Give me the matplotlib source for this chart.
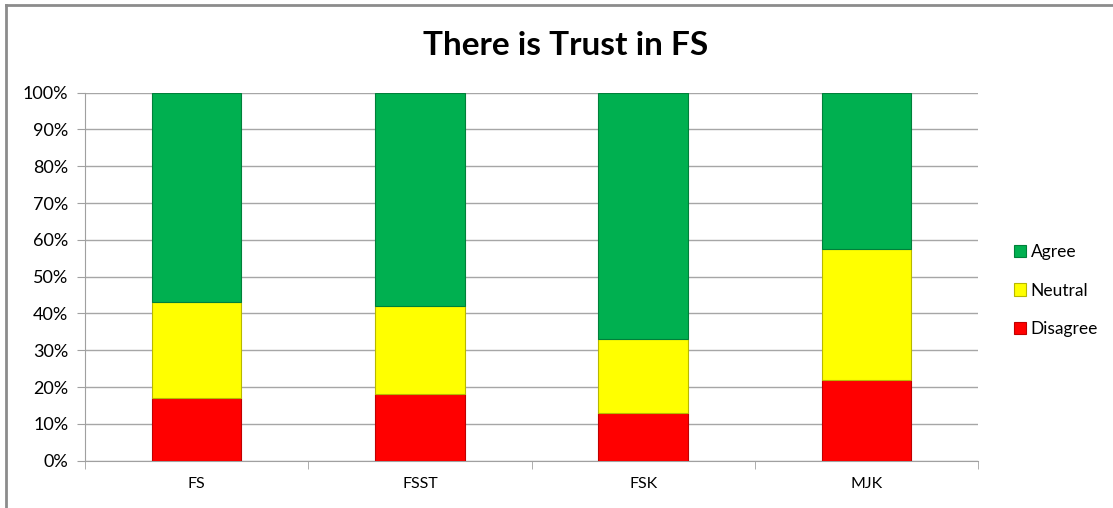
import numpy as np
import matplotlib.pyplot as plt
from matplotlib.lines import Line2D

categories = ['FS', 'FSST', 'FSK', 'MJK']
disagree = [17, 18, 13, 22]
neutral = [26, 24, 20, 35.5]
agree = [57, 58, 67, 42.5]

plt.rcParams['font.family'] = ['Lato', 'DejaVu Sans']

fig = plt.figure(figsize=(11.13, 5.08), dpi=100)
ax = fig.add_axes([0.0764, 0.0933, 0.8023, 0.7244])

# 图框 (只有上边和左边可见)
fig.add_artist(Line2D([0.005, 1.0], [0.991, 0.991], transform=fig.transFigure,
                      color='#8c8c8c', linewidth=2.0))
fig.add_artist(Line2D([0.005, 0.005], [0.0, 0.991], transform=fig.transFigure,
                      color='#8c8c8c', linewidth=2.0))

x = np.arange(len(categories))
w = 0.4
d = np.array(disagree)
n = np.array(neutral)
a = np.array(agree)

ax.bar(x, d, w, color='#FF0000', edgecolor='#c00000', linewidth=0.8, label='Disagree', zorder=3)
ax.bar(x, n, w, bottom=d, color='#FFFF00', edgecolor='#b8b800', linewidth=0.8, label='Neutral', zorder=3)
ax.bar(x, a, w, bottom=d + n, color='#00B050', edgecolor='#00803a', linewidth=0.8, label='Agree', zorder=3)

ax.set_xlim(-0.5, len(categories) - 0.5)
ax.set_ylim(0, 100)
ax.set_yticks(np.arange(0, 101, 10))
ax.set_yticklabels([f'{v}%' for v in range(0, 101, 10)], fontsize=13)
ax.set_xticks(x)
ax.set_xticklabels(categories, fontsize=11.5)
ax.tick_params(axis='x', length=0, pad=12)
ax.set_xticks(np.arange(-0.5, len(categories), 1), minor=True)
ax.tick_params(axis='x', which='minor', length=6, color='#a0a0a0', direction='out')
ax.tick_params(axis='y', length=6, color='#a0a0a0', direction='out', pad=6)

ax.grid(axis='y', color='#a6a6a6', linewidth=1.0, zorder=0)
for s in ['top', 'right']:
    ax.spines[s].set_visible(False)
for s in ['left', 'bottom']:
    ax.spines[s].set_color('#a0a0a0')

fig.text(0.508, 0.911, 'There is Trust in FS', fontsize=24, fontweight='bold',
         ha='center', va='center')

handles, labels = ax.get_legend_handles_labels()
fig.legend(handles[::-1], labels[::-1], loc='center left', bbox_to_anchor=(0.897, 0.428),
           frameon=False, fontsize=12.5, handlelength=0.7, handleheight=0.7,
           handletextpad=0.25, labelspacing=1.3)

plt.savefig('out.png', dpi=100)
